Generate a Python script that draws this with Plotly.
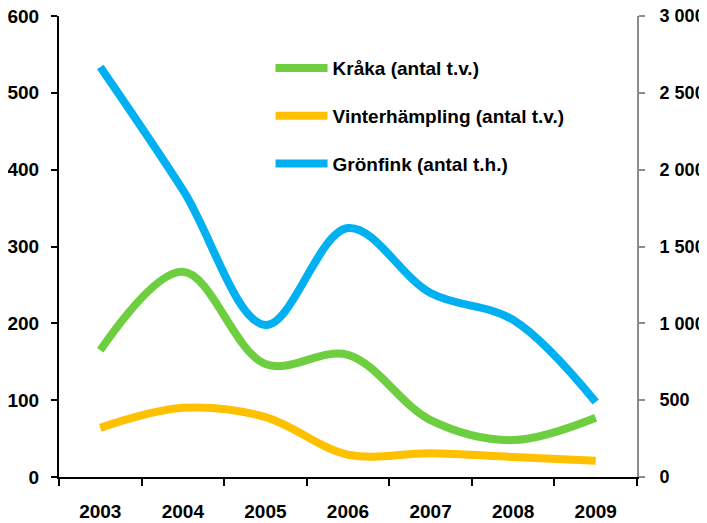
import plotly.graph_objects as go

years = ["2003", "2004", "2005", "2006", "2007", "2008", "2009"]
kraka = [165, 267, 147, 159, 74, 48, 77]
vinterhampling = [64, 90, 78, 29, 31, 26, 21]
gronfink = [2668, 1868, 989, 1620, 1197, 1022, 488]

left_ticks = [0, 100, 200, 300, 400, 500, 600]
right_ticks = [0, 500, 1000, 1500, 2000, 2500, 3000]
right_labels = ["0", "500", "1 000", "1 500", "2 000", "2 500", "3 000"]

FONT = "Liberation Sans, Arial, sans-serif"
TICKFONT = dict(family=FONT, size=19, color="black")

fig = go.Figure()
fig.add_trace(go.Scatter(x=years, y=kraka, name="<b>Kråka (antal t.v.)</b>", mode="lines",
                         line=dict(color="#6DCF3F", width=8, shape="spline", smoothing=1),
                         legendgroup="a"))
fig.add_trace(go.Scatter(x=years, y=vinterhampling, name="<b>Vinterhämpling (antal t.v.)</b>", mode="lines",
                         line=dict(color="#FFC000", width=8, shape="spline", smoothing=1),
                         legendgroup="b"))
fig.add_trace(go.Scatter(x=years, y=gronfink, name="<b>Grönfink (antal t.h.)</b>", mode="lines",
                         line=dict(color="#00B0F0", width=8, shape="spline", smoothing=1),
                         legendgroup="c", yaxis="y2"))

# page body has an 8px default margin, so the figure is sized to fit the 707x523 window
fig.update_layout(
    width=699, height=515,
    margin=dict(l=51, r=70, t=8, b=46, autoexpand=False),
    paper_bgcolor="white", plot_bgcolor="white",
    font=dict(family=FONT, size=19, color="black"),
    showlegend=True,
    legend=dict(x=0.366, y=0.928, xanchor="left", yanchor="top",
                bgcolor="rgba(0,0,0,0)", tracegroupgap=20,
                font=dict(family=FONT, size=19, color="black"),
                itemwidth=52),
    xaxis=dict(type="category", range=[-0.5, 6.5], showline=True, linecolor="black", linewidth=2,
               ticks="outside", tickson="boundaries", ticklen=7, tickcolor="black", tickwidth=2,
               showgrid=False, tickfont=TICKFONT, automargin=False,
               ticklabelstandoff=16,
               tickvals=years, ticktext=[f"<b>{y}</b>" for y in years]),
    yaxis=dict(range=[0, 600], tickvals=left_ticks, ticktext=[f"<b>{v}</b>" for v in left_ticks],
               showline=True, linecolor="black", linewidth=2, ticks="outside", ticklen=6,
               tickcolor="black", tickwidth=2, showgrid=False, zeroline=False,
               tickfont=TICKFONT, automargin=False, ticklabelstandoff=8,
               ticklabeloverflow="allow"),
    yaxis2=dict(range=[0, 3000], tickvals=right_ticks, ticktext=[f"<b>{t}</b>" for t in right_labels],
                overlaying="y", side="right", showline=True, linecolor="#8C8C8C", linewidth=2,
                ticks="outside", ticklen=6, tickcolor="#8C8C8C", tickwidth=2, showgrid=False,
                zeroline=False, tickfont=dict(family=FONT, size=18, color="black"),
                automargin=False, ticklabelstandoff=11, ticklabeloverflow="allow"),
)

fig.write_html("out.html")
